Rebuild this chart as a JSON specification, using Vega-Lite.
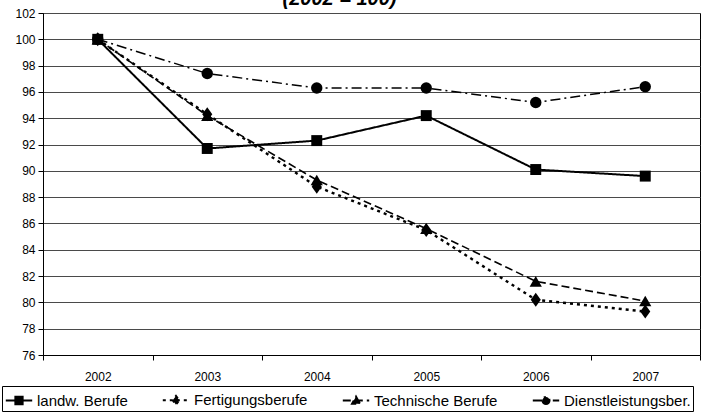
{
  "$schema": "https://vega.github.io/schema/vega-lite/v6.json",
  "autosize": {"type": "none"},
  "width": 657,
  "height": 342,
  "padding": {"left": 43, "top": 13, "right": 8, "bottom": 63},
  "background": "white",
  "title": {
    "text": "(2002 = 100)",
    "font": "Liberation Sans",
    "fontSize": 20,
    "fontWeight": "bold",
    "fontStyle": "italic",
    "color": "black",
    "baseline": "alphabetic",
    "offset": -18,
    "dx": -32
  },
  "config": {
    "font": "Liberation Sans",
    "view": {"stroke": "black", "strokeWidth": 1},
    "axis": {
      "labelFont": "Liberation Sans",
      "labelFontSize": 12,
      "labelColor": "black",
      "domainColor": "black",
      "tickColor": "black",
      "title": null
    }
  },
  "data": {
    "values": [
      {"Jahr": "2002", "Beruf": "landw. Berufe", "Wert": 100},
      {"Jahr": "2003", "Beruf": "landw. Berufe", "Wert": 91.7},
      {"Jahr": "2004", "Beruf": "landw. Berufe", "Wert": 92.3},
      {"Jahr": "2005", "Beruf": "landw. Berufe", "Wert": 94.2},
      {"Jahr": "2006", "Beruf": "landw. Berufe", "Wert": 90.1},
      {"Jahr": "2007", "Beruf": "landw. Berufe", "Wert": 89.6},
      {"Jahr": "2002", "Beruf": "Fertigungsberufe", "Wert": 100},
      {"Jahr": "2003", "Beruf": "Fertigungsberufe", "Wert": 94.3},
      {"Jahr": "2004", "Beruf": "Fertigungsberufe", "Wert": 88.8},
      {"Jahr": "2005", "Beruf": "Fertigungsberufe", "Wert": 85.5},
      {"Jahr": "2006", "Beruf": "Fertigungsberufe", "Wert": 80.2},
      {"Jahr": "2007", "Beruf": "Fertigungsberufe", "Wert": 79.3},
      {"Jahr": "2002", "Beruf": "Technische Berufe", "Wert": 100},
      {"Jahr": "2003", "Beruf": "Technische Berufe", "Wert": 94.2},
      {"Jahr": "2004", "Beruf": "Technische Berufe", "Wert": 89.3},
      {"Jahr": "2005", "Beruf": "Technische Berufe", "Wert": 85.6},
      {"Jahr": "2006", "Beruf": "Technische Berufe", "Wert": 81.6},
      {"Jahr": "2007", "Beruf": "Technische Berufe", "Wert": 80.1},
      {"Jahr": "2002", "Beruf": "Dienstleistungsber.", "Wert": 100},
      {"Jahr": "2003", "Beruf": "Dienstleistungsber.", "Wert": 97.4},
      {"Jahr": "2004", "Beruf": "Dienstleistungsber.", "Wert": 96.3},
      {"Jahr": "2005", "Beruf": "Dienstleistungsber.", "Wert": 96.3},
      {"Jahr": "2006", "Beruf": "Dienstleistungsber.", "Wert": 95.2},
      {"Jahr": "2007", "Beruf": "Dienstleistungsber.", "Wert": 96.4}
    ]
  },
  "encoding": {
    "x": {
      "field": "Jahr",
      "type": "ordinal",
      "bandPosition": 0.5,
      "scale": {"type": "band", "paddingInner": 0, "paddingOuter": 0},
      "axis": {
        "labelAngle": 0,
        "tickBand": "extent",
        "tickSize": 5,
        "labelPadding": 11,
        "grid": false
      }
    },
    "y": {
      "field": "Wert",
      "type": "quantitative",
      "scale": {"domain": [76, 102], "nice": false, "zero": false},
      "axis": {
        "values": [76, 78, 80, 82, 84, 86, 88, 90, 92, 94, 96, 98, 100, 102],
        "tickSize": 5,
        "labelPadding": 3,
        "grid": true,
        "gridColor": "#4a4a4a",
        "gridWidth": 1
      }
    }
  },
  "layer": [
    {
      "mark": {"type": "line", "color": "black"},
      "encoding": {
        "strokeDash": {
          "field": "Beruf",
          "type": "nominal",
          "scale": {
            "domain": ["landw. Berufe", "Fertigungsberufe", "Technische Berufe", "Dienstleistungsber."],
            "range": [[1, 0], [3, 4], [8, 4], [10, 4, 2, 4]]
          },
          "legend": {
            "orient": "none",
            "legendX": -41,
            "legendY": 373,
            "direction": "horizontal",
            "columns": 4,
            "title": null,
            "strokeColor": "black",
            "fillColor": "white",
            "padding": 2,
            "labelFont": "Liberation Sans",
            "labelFontSize": 15,
            "labelColor": "black",
            "labelLimit": 300,
            "labelOffset": 6,
            "symbolOffset": 3,
            "columnPadding": 30,
            "symbolSize": 484,
            "symbolType": {"expr": "datum.value === 'landw. Berufe' ? 'M-1.2,0H1.2M-0.33,-0.33H0.33V0.33H-0.33Z' : datum.value === 'Fertigungsberufe' ? 'M-1.2,0H1.2M0,-0.4L0.3,0L0,0.4L-0.3,0Z' : datum.value === 'Technische Berufe' ? 'M-1.2,0H1.2M0,-0.36L0.36,0.3L-0.36,0.3Z' : 'M-1.2,0H1.2M0.32,0A0.32,0.32 0 1,1 -0.32,0A0.32,0.32 0 1,1 0.32,0Z'"},
            "symbolFillColor": "black",
            "symbolStrokeColor": "black",
            "symbolStrokeWidth": 2,
            "symbolOpacity": 1,
            "encode": {
              "symbols": {
                "update": {
                  "fill": {"value": "black"},
                  "stroke": {"value": "black"},
                  "strokeWidth": {"value": 2}
                }
              }
            }
          }
        },
        "strokeWidth": {
          "field": "Beruf",
          "type": "nominal",
          "scale": {
            "type": "ordinal",
            "domain": ["Dienstleistungsber.", "Technische Berufe", "Fertigungsberufe", "landw. Berufe"],
            "range": [1.5, 1.6, 2.4, 2]
          },
          "legend": null
        }
      }
    },
    {
      "mark": {"type": "point", "filled": true, "color": "black", "opacity": 1},
      "encoding": {
        "shape": {
          "field": "Beruf",
          "type": "nominal",
          "scale": {
            "domain": ["Dienstleistungsber.", "Technische Berufe", "Fertigungsberufe", "landw. Berufe"],
            "range": ["circle", "triangle-up", "M0,-1L0.72,0L0,1L-0.72,0Z", "square"]
          },
          "legend": null
        },
        "size": {
          "field": "Beruf",
          "type": "nominal",
          "scale": {
            "type": "ordinal",
            "domain": ["Dienstleistungsber.", "Technische Berufe", "Fertigungsberufe", "landw. Berufe"],
            "range": [130, 150, 196, 120]
          },
          "legend": null
        }
      }
    }
  ]
}
